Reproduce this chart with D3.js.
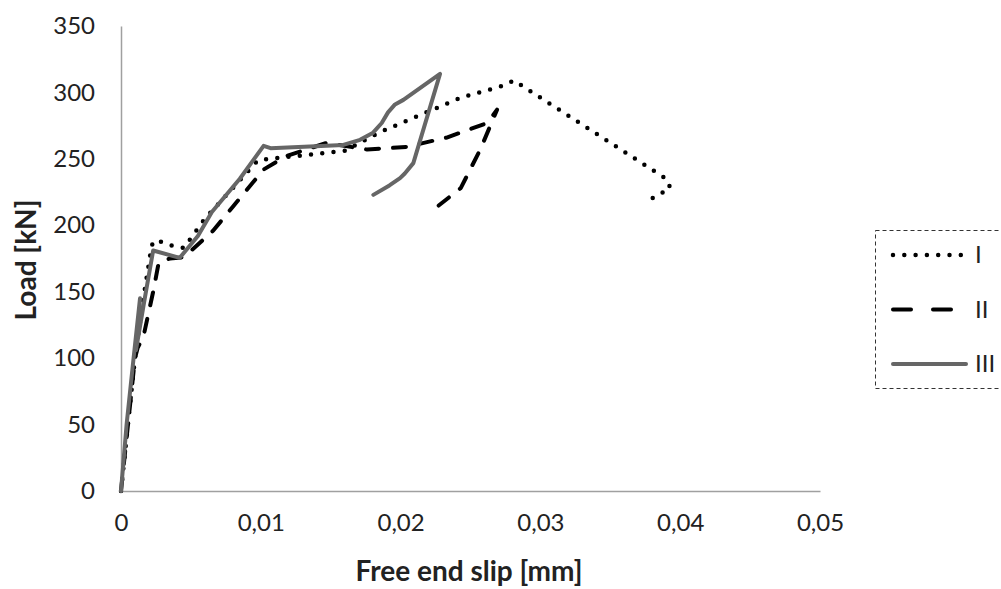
<!DOCTYPE html>
<html>
  <head>
    <meta charset="utf-8">
    <title>Load vs free end slip</title>
    <style>
      body { margin: 0; background: #fff; }
      text { font-family: Lato, "Open Sans", sans-serif; fill: #222; }
    </style>
  </head>
  <body>
    <svg width="1001" height="589"></svg>
    <script src="https://cdn.jsdelivr.net/npm/d3@7"></script>
    <script>
  // values: [slip mm, load kN]
  var seriesI = [[0,0],[0.0005,50],[0.001,100],[0.0016,145],[0.0022,185],[0.0025,189],[0.0035,185],
    [0.0045,183],[0.006,205],[0.008,228],[0.0098,249],[0.0115,251],[0.016,256],[0.0185,270],
    [0.0214,283],[0.0243,296],[0.0273,305],[0.0281,309],[0.039,235],[0.0393,228],[0.0376,218]];
  var seriesII = [[0,0],[0.0006,60],[0.001,100],[0.0012,108],[0.0016,116],[0.0023,150],[0.0027,172],
    [0.0035,175],[0.0045,176],[0.0066,196],[0.008,214],[0.0102,242],[0.0118,252],[0.0147,262],
    [0.0176,257],[0.0204,259],[0.0233,266],[0.0262,277],[0.0269,287],[0.0257,257],[0.0243,228],[0.0225,213]];
  var seriesIII = [[0,0],[0.0004,50],[0.0009,100],[0.00136,145],[0.00107,106],[0.0017,145],[0.0023,181],
    [0.0042,175.5],[0.0055,192],[0.0065,210],[0.0085,235],[0.0102,259.8],[0.0107,258],[0.0159,260.5],
    [0.0171,264.3],[0.018,269.4],[0.01865,277],[0.0191,285],[0.0196,291],[0.0202,294.4],[0.02282,314],
    [0.02091,246.8],[0.0203,239],[0.01996,235.5],[0.0192,230],[0.01805,222.9]];
  var names = ["I", "II", "III"];
  var xTicks = [0, 0.01, 0.02, 0.03, 0.04, 0.05];
  var yTicks = [0, 50, 100, 150, 200, 250, 300, 350];

  var svg = d3.select("svg");
  var x = d3.scaleLinear().domain([0, 0.05]).range([121, 820]);
  var y = d3.scaleLinear().domain([0, 350]).range([491, 26]);
  var fmt = function(d) { return d === 0 ? "0" : d3.format(".2f")(d).replace(".", ","); };

  var xAxis = svg.append("g").attr("transform", "translate(0,491)")
    .call(d3.axisBottom(x).tickValues(xTicks).tickFormat(fmt).tickSize(0).tickPadding(23));
  var yAxis = svg.append("g").attr("transform", "translate(121,0)")
    .call(d3.axisLeft(y).tickValues(yTicks).tickSize(0).tickPadding(26));
  [xAxis, yAxis].forEach(function(a) {
    a.select(".domain").attr("stroke", "#a0a0a0").attr("stroke-width", 1.5);
    a.selectAll("text").style("font-size", "24px").attr("fill", "#333");
  });
  xAxis.selectAll("text").attr("dy", "0.71em");

  var styles = [
    {stroke: "#000", width: 4.5, dash: "0,11.3"},
    {stroke: "#000", width: 4, dash: "13,14"},
    {stroke: "#666", width: 4, dash: null}
  ];
  var line = d3.line().x(function(d) { return x(d[0]); }).y(function(d) { return y(d[1]); });

  [seriesI, seriesII, seriesIII].forEach(function(s, i) {
    svg.append("path").datum(s).attr("d", line)
      .attr("fill", "none").attr("stroke", styles[i].stroke)
      .attr("stroke-width", styles[i].width)
      .attr("stroke-linecap", "round").attr("stroke-linejoin", "round")
      .attr("stroke-dasharray", styles[i].dash);
  });

  svg.append("text").attr("x", 469).attr("y", 581).attr("text-anchor", "middle")
    .style("font-size", "28px").style("font-weight", "bold").text("Free end slip [mm]");
  svg.append("text").attr("transform", "translate(36,260) rotate(-90)").attr("text-anchor", "middle")
    .style("font-size", "28px").style("font-weight", "bold").text("Load [kN]");

  // legend
  var lg = svg.append("g");
  lg.append("rect").attr("x", 875.5).attr("y", 230.5).attr("width", 140).attr("height", 158)
    .attr("fill", "none").attr("stroke", "#333").attr("stroke-width", 1).attr("stroke-dasharray", "4,3");
  names.forEach(function(n, i) {
    var ly = 255 + i * 54.5;
    lg.append("line").attr("x1", 893).attr("x2", 966).attr("y1", ly).attr("y2", ly)
      .attr("stroke", styles[i].stroke).attr("stroke-width", styles[i].width)
      .attr("stroke-linecap", "round")
      .attr("stroke-dasharray", i === 1 ? "18,22" : styles[i].dash);
    lg.append("text").attr("x", 975).attr("y", ly).attr("dy", "0.35em")
      .style("font-size", "24px").attr("fill", "#333").text(n);
  });
    </script>
  </body>
</html>
